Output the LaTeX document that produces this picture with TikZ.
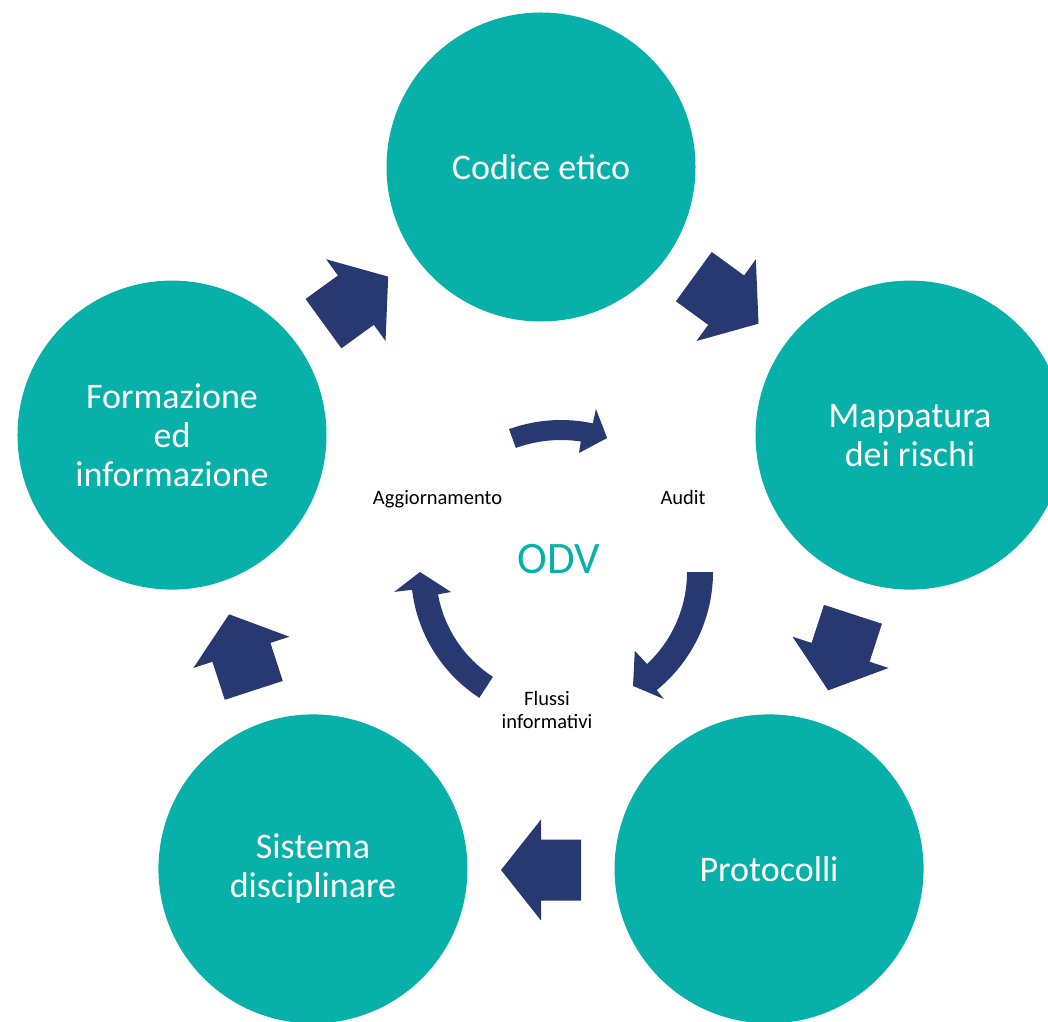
\documentclass[tikz,border=0pt]{standalone}
\usepackage{fontspec}
\setmainfont{Carlito}
\usetikzlibrary{calc}

\definecolor{cycleteal}{RGB}{7,176,168}
\definecolor{arrownavy}{RGB}{40,57,114}

% curved arrow of the inner cycle, drawn around the current origin:
% #1 tail angle, #2 outer radius, #3 inner radius,
% #4 outer barb angle, #5 outer barb radius,
% #6 tip angle, #7 tip radius,
% #8 inner barb angle, #9 inner barb radius
\newcommand{\cyclearrow}[9]{%
  \fill[arrownavy] (#1:#2) arc[start angle=#1, end angle=#4, radius=#2]
    -- (#4:#5) -- (#6:#7) -- (#8:#9) -- (#8:#3)
    arc[start angle=#8, end angle=#1, radius=#3] -- cycle;}

\begin{document}
\begin{tikzpicture}[x=1pt, y=1pt,
  stage/.style={circle, fill=cycleteal, minimum size=309pt, inner sep=0pt,
    text=white, align=center, font=\fontsize{36}{39}\selectfont},
  smalllabel/.style={inner sep=0pt, text=black, align=center,
    font=\fontsize{20.5}{23.5}\selectfont},
  blockarrow/.pic={\fill[arrownavy] (-40,-30.5) -- (0,-30.5) -- (0,-50.5)
    -- (40,0) -- (0,50.5) -- (0,30.5) -- (-40,30.5) -- cycle;}]

\useasboundingbox (0,0) rectangle (1048,1021);
\clip (0,0) rectangle (1048,1021);

\coordinate (hub) at (541,466);
\coordinate (odvhub) at (561,449);

% the five stages of the cycle
\node[stage] (codice)    at ($(hub)+(90:388)$)   {Codice etico};
\node[stage] (mappatura) at ($(hub)+(18:388)$)   {Mappatura\\dei rischi};
\node[stage] (protocolli) at ($(hub)+(-54:388)$) {Protocolli};
\node[stage] (sistema)   at ($(hub)+(-126:388)$) {Sistema\\disciplinare};
\node[stage] (formazione) at ($(hub)+(162:388)$) {Formazione\\ed\\informazione};

% block arrows between the stages, clockwise
\foreach \a in {126,54,-18,-90,198}
  \pic[rotate=\a-90] at ($(hub)+(\a:315)$) {blockarrow};

% inner cycle around the ODV
\begin{scope}[shift={(odvhub)}]
  \cyclearrow{110}{152}{132}{77.9}{166.7}{71}{141.7}{81.4}{120.4}
  \cyclearrow{0}{152}{126}{-51}{163.5}{-57.7}{134.8}{-46.9}{108}
  \cyclearrow{237}{150}{125}{186.8}{168}{180}{141}{190.3}{111.8}
\end{scope}

\node[anchor=base, inner sep=0pt, text=cycleteal,
  font=\fontsize{45}{50}\selectfont] (odv) at (559,448) {ODV};
\node[smalllabel, anchor=base] (aggiornamento) at (437.5,517) {Aggiornamento};
\node[smalllabel, anchor=base] (audit) at (683,517) {Audit};
\node[smalllabel] (flussi) at (547,311) {Flussi\\informativi};
\end{tikzpicture}
\end{document}
